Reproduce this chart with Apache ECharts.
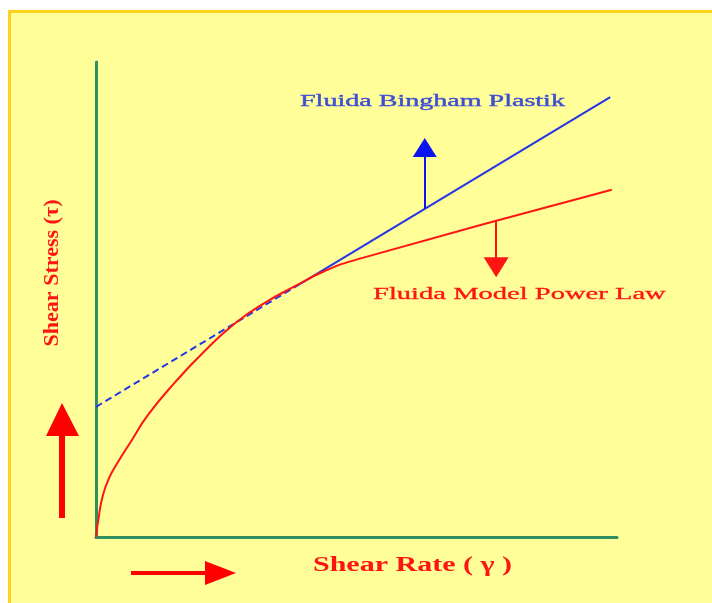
<!DOCTYPE html>
<html>
<head>
<meta charset="utf-8">
<script src="https://cdn.jsdelivr.net/npm/echarts@6/dist/echarts.min.js"></script>
<style>
  html, body { margin: 0; padding: 0; background: #ffffff; }
  #bg { position: absolute; left: 8px; top: 10px; width: 720px; height: 610px;
        background: #FFFE99; border-top: 3px solid #FFD21F; border-left: 3px solid #FFD21F; box-sizing: border-box; }
  #chart { position: absolute; left: 0; top: 0; width: 712px; height: 603px; }
</style>
</head>
<body>
<div id="bg"></div>
<div id="chart"></div>
<script>
// Power-law fluid curve (arbitrary units)
const powerLawX = [0, 0.58, 1.34, 2.50, 4.22, 6.53, 9.98, 15.2, 20.9, 26.7, 32.4, 38.2, 43.9, 50.3, 99.0];
const powerLawY = [0, 4.63, 8.84, 12.4, 15.8, 19.8, 25.7, 32.6, 39.2, 45.0, 49.3, 52.8, 56.0, 58.5, 73.1];
// Bingham plastic line: dashed extrapolation, then solid part
const binghamDashX = [0, 39.2];
const binghamDashY = [27.4, 53.3];
const binghamSolidX = [39.2, 98.7];
const binghamSolidY = [53.3, 92.6];
// Annotation arrows attached to the curves: [x, yStart, yEnd]
const binghamArrow = [63.1, 69.1, 82.0];
const powerArrow = [76.8, 66.4, 56.8];
// Texts
const binghamLabel = 'Fluida Bingham Plastik';
const powerLabel = 'Fluida Model Power Law';
const xName = 'Shear Rate ( \u03b3 )';
const yName = 'Shear Stress (\u03c4)';

const zip = (xs, ys) => xs.map((x, i) => [x, ys[i]]);
const serif = "'Liberation Serif', 'Times New Roman', 'DejaVu Serif', serif";
const red = '#FF1414';
const blue = '#2636E6';

const chart = echarts.init(document.getElementById('chart'), null, { renderer: 'canvas' });
chart.setOption({
  animation: false,
  backgroundColor: 'transparent',
  grid: { left: 96, top: 62, width: 521, height: 475 },
  xAxis: {
    type: 'value', min: 0, max: 100,
    axisLine: { show: true, onZero: false, lineStyle: { color: '#2F8F5E', width: 3 } },
    axisTick: { show: false }, axisLabel: { show: false }, splitLine: { show: false }
  },
  yAxis: {
    type: 'value', min: 0, max: 100,
    axisLine: { show: true, onZero: false, lineStyle: { color: '#2F8F5E', width: 3 } },
    axisTick: { show: false }, axisLabel: { show: false }, splitLine: { show: false }
  },
  series: [
    {
      type: 'line', name: 'Bingham (extrapolated)', data: zip(binghamDashX, binghamDashY),
      symbol: 'none', clip: false,
      lineStyle: { color: blue, width: 2, type: [7, 4] }
    },
    {
      type: 'line', name: 'Bingham', data: zip(binghamSolidX, binghamSolidY),
      symbol: 'none', clip: false,
      lineStyle: { color: blue, width: 2 },
      markLine: {
        silent: true, animation: false,
        symbol: ['none', 'triangle'], symbolSize: [24, 19],
        label: { show: false },
        lineStyle: { color: '#0A14F0', width: 2, type: 'solid' },
        data: [[{ coord: [binghamArrow[0], binghamArrow[1]] }, { coord: [binghamArrow[0], binghamArrow[2]] }]]
      }
    },
    {
      type: 'line', name: 'Power Law', data: zip(powerLawX, powerLawY),
      symbol: 'none', clip: false, smooth: 0.5,
      lineStyle: { color: red, width: 2 },
      markLine: {
        silent: true, animation: false,
        symbol: ['none', 'triangle'], symbolSize: [25, 20],
        label: { show: false },
        lineStyle: { color: red, width: 2, type: 'solid' },
        data: [[{ coord: [powerArrow[0], powerArrow[1]] }, { coord: [powerArrow[0], powerArrow[2]] }]]
      }
    }
  ],
  graphic: [
    { type: 'text', x: 300, y: 102, scaleX: 1.65, silent: true,
      style: { text: binghamLabel, font: '17px ' + serif, fill: '#3E4FD2', textAlign: 'left', textVerticalAlign: 'middle',
               stroke: '#3E4FD2', lineWidth: 0.4 } },
    { type: 'text', x: 373, y: 295, scaleX: 1.68, silent: true,
      style: { text: powerLabel, font: '17px ' + serif, fill: red, textAlign: 'left', textVerticalAlign: 'middle',
               stroke: red, lineWidth: 0.3 } },
    { type: 'text', x: 313, y: 566, scaleX: 1.5, silent: true,
      style: { text: xName, font: 'bold 20px ' + serif, fill: red, textAlign: 'left', textVerticalAlign: 'middle' } },
    { type: 'text', x: 53, y: 273, rotation: Math.PI / 2, scaleX: 1.05, silent: true,
      style: { text: yName, font: 'bold 21px ' + serif, fill: red, textAlign: 'center', textVerticalAlign: 'middle' } },
    // decorative axis direction arrows
    { type: 'line', silent: true, shape: { x1: 62, y1: 518, x2: 62, y2: 432 }, style: { stroke: '#FF0000', lineWidth: 6 } },
    { type: 'polygon', silent: true, shape: { points: [[62, 403], [46, 436], [79, 436]] }, style: { fill: '#FF0000' } },
    { type: 'line', silent: true, shape: { x1: 131, y1: 573, x2: 208, y2: 573 }, style: { stroke: '#FF0000', lineWidth: 4 } },
    { type: 'polygon', silent: true, shape: { points: [[236, 573], [205, 561], [205, 585]] }, style: { fill: '#FF0000' } }
  ]
});
</script>
</body>
</html>
